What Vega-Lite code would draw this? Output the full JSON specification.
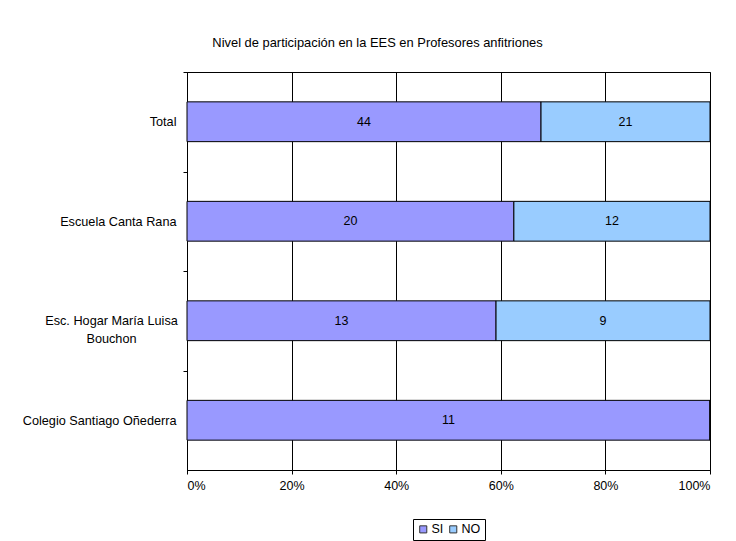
{
  "$schema": "https://vega.github.io/schema/vega-lite/v6.json",
  "width": 523,
  "height": 398,
  "autosize": {"type": "none"},
  "padding": {"left": 187, "top": 72, "right": 26, "bottom": 71},
  "background": "white",
  "config": {
    "view": {"stroke": "black", "strokeWidth": 1},
    "font": "Liberation Sans"
  },
  "title": {
    "text": "Nivel de participación en la EES en Profesores anfitriones",
    "anchor": "middle",
    "dx": -71,
    "offset": 22,
    "fontSize": 12.9,
    "font": "Liberation Sans",
    "fontWeight": "normal",
    "color": "black"
  },
  "data": {
    "values": [
      {"escuela": "Total", "serie": "SI", "n": 44},
      {"escuela": "Total", "serie": "NO", "n": 21},
      {"escuela": "Escuela Canta Rana", "serie": "SI", "n": 20},
      {"escuela": "Escuela Canta Rana", "serie": "NO", "n": 12},
      {"escuela": "Esc. Hogar María Luisa Bouchon", "serie": "SI", "n": 13},
      {"escuela": "Esc. Hogar María Luisa Bouchon", "serie": "NO", "n": 9},
      {"escuela": "Colegio Santiago Oñederra", "serie": "SI", "n": 11},
      {"escuela": "Colegio Santiago Oñederra", "serie": "NO", "n": 0}
    ]
  },
  "encoding": {
    "y": {
      "field": "escuela",
      "type": "nominal",
      "sort": ["Total", "Escuela Canta Rana", "Esc. Hogar María Luisa Bouchon", "Colegio Santiago Oñederra"],
      "scale": {"paddingInner": 0.6, "paddingOuter": 0.3},
      "axis": {
        "title": null,
        "domainColor": "black",
        "tickColor": "black",
        "tickOffset": -49.75,
        "labelOffset": 49.75,
        "tickSize": 4,
        "grid": false,
        "labelFont": "Liberation Sans",
        "labelFontSize": 12.7,
        "labelColor": "black",
        "labelLineHeight": 18,
        "labelLimit": 300,
        "labelExpr": "datum.value == 'Esc. Hogar María Luisa Bouchon' ? ['Esc. Hogar María Luisa', 'Bouchon'] : datum.value",
        "labelAlign": {"condition": {"test": "datum.value == 'Esc. Hogar María Luisa Bouchon'", "value": "center"}, "value": "right"},
        "labelPadding": {"condition": {"test": "datum.value == 'Esc. Hogar María Luisa Bouchon'", "value": 72}, "value": 7}
      }
    }
  },
  "layer": [
    {
      "mark": {"type": "bar", "stroke": "black", "strokeWidth": 1},
      "encoding": {
        "x": {
          "field": "n",
          "type": "quantitative",
          "stack": "normalize",
          "scale": {"domain": [0, 1]},
          "axis": {
            "title": null,
            "format": "%",
            "values": [0, 0.2, 0.4, 0.6, 0.8, 1],
            "grid": true,
            "gridColor": "black",
            "gridOpacity": 1,
            "domainColor": "black",
            "tickColor": "black",
            "tickSize": 4,
            "labelPadding": 5,
            "labelFont": "Liberation Sans",
            "labelFontSize": 12.5,
            "labelColor": "black"
          }
        },
        "color": {
          "field": "serie",
          "type": "nominal",
          "sort": ["SI", "NO"],
          "scale": {"domain": ["SI", "NO"], "range": ["#9999FF", "#99CCFF"]},
          "legend": {
            "title": null,
            "orient": "none",
            "legendX": 226,
            "legendY": 447,
            "direction": "horizontal",
            "strokeColor": "black",
            "padding": 4,
            "symbolType": "square",
            "symbolSize": 50,
            "symbolStrokeColor": "#333333",
            "symbolStrokeWidth": 1,
            "labelFont": "Liberation Sans",
            "labelFontSize": 12.5,
            "labelColor": "black",
            "labelOffset": 2,
            "columnPadding": 3
          }
        },
        "order": {"field": "serie", "sort": "descending"}
      }
    },
    {
      "transform": [{"filter": "datum.n > 0"}],
      "mark": {"type": "text", "font": "Liberation Sans", "fontSize": 12.5, "color": "black"},
      "encoding": {
        "x": {"field": "n", "type": "quantitative", "stack": "normalize", "bandPosition": 0.5},
        "text": {"field": "n", "type": "quantitative"},
        "order": {"field": "serie", "sort": "descending"},
        "detail": {"field": "serie"}
      }
    }
  ]
}
